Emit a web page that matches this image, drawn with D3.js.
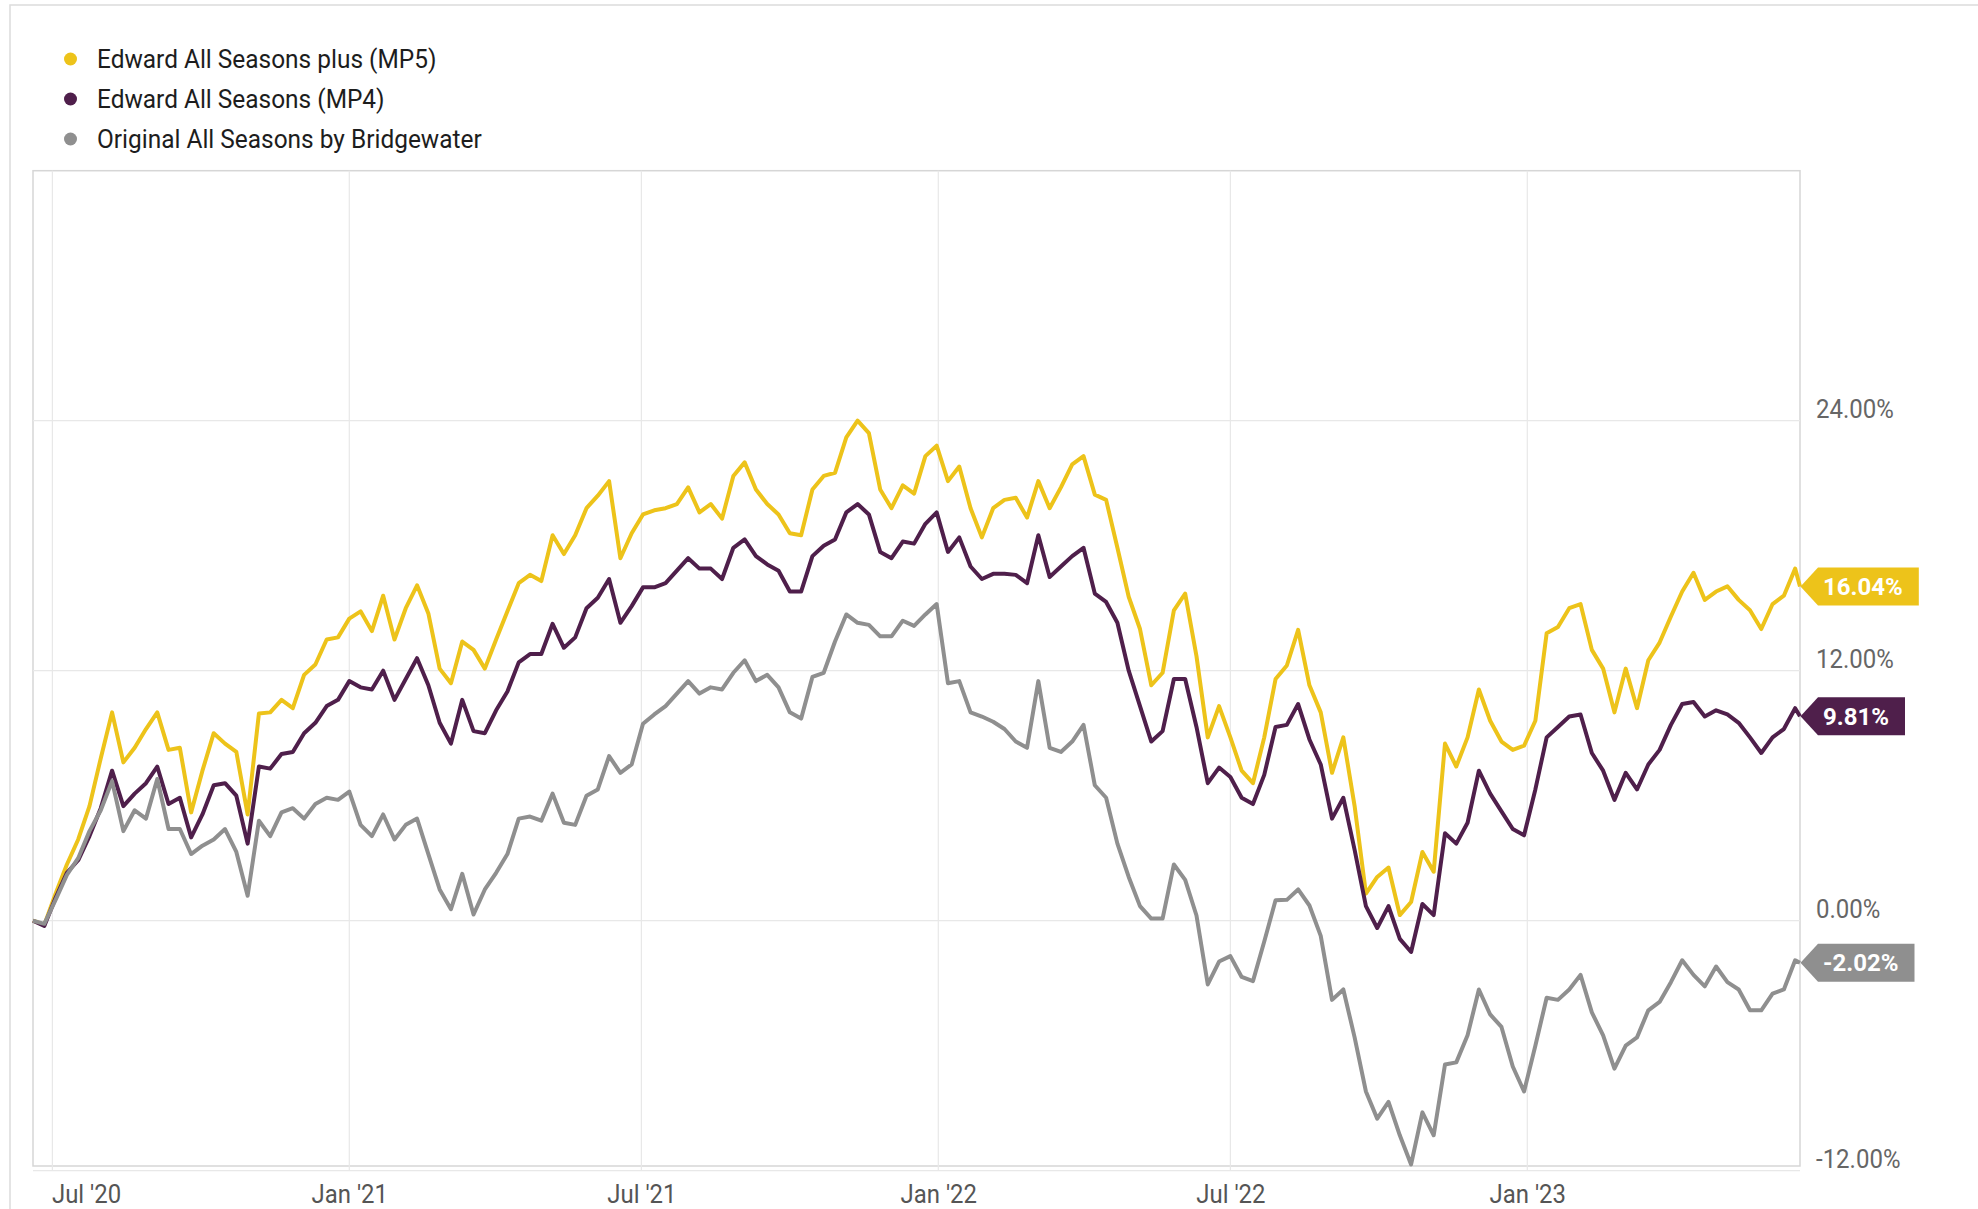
<!DOCTYPE html>
<html>
<head>
<meta charset="utf-8">
<script src="https://cdn.jsdelivr.net/npm/d3@7"></script>
<style>
  body { margin: 0; background: #fff; }
  svg { display: block; font-family: Roboto, "Noto Sans", sans-serif; }
</style>
</head>
<body>
<svg id="chart" width="1978" height="1209"></svg>
<script>
// series, in legend order
const seriesNames = ["Edward All Seasons plus (MP5)", "Edward All Seasons (MP4)", "Original All Seasons by Bridgewater"];
const seriesColors = ["#edc31a", "#4f1f4b", "#8f8f8f"];

// cumulative return in %, one reading per week from 19 Jun 2020, last one on 19 Jun 2023
const mp5 = [
  0, -0.2, 1.3, 2.7, 3.9, 5.5, 7.8, 10.0, 7.6, 8.3,
  9.2, 10.0, 8.2, 8.3, 5.2, 7.2, 9.0, 8.5, 8.1, 5.1,
  9.95, 10.0, 10.6, 10.2, 11.8, 12.3, 13.5, 13.6, 14.5, 14.85,
  13.9, 15.6, 13.5, 15.0, 16.1, 14.75, 12.1, 11.4, 13.4, 13.0,
  12.1, 13.5, 14.85, 16.2, 16.6, 16.3, 18.5, 17.6, 18.5, 19.8,
  20.4, 21.1, 17.4, 18.6, 19.5, 19.7, 19.8, 20.0, 20.8, 19.6,
  20.0, 19.3, 21.35, 22.0, 20.7, 20.0, 19.5, 18.6, 18.5, 20.7,
  21.35, 21.5, 23.2, 24.0, 23.4, 20.7, 19.8, 20.9, 20.5, 22.3,
  22.8, 21.1, 21.8, 19.8, 18.4, 19.8, 20.2, 20.3, 19.35, 21.1,
  19.8, 20.8, 21.9, 22.3, 20.45, 20.2, 17.9, 15.55, 14.0, 11.3,
  11.9, 14.9, 15.7, 12.7, 8.8, 10.3, 8.8, 7.2, 6.6, 8.8,
  11.6, 12.25, 13.96, 11.3, 10.0, 7.1, 8.8, 5.5, 1.3, 2.1,
  2.55, 0.27, 0.9, 3.3, 2.35, 8.5, 7.4, 8.8, 11.1, 9.6,
  8.6, 8.2, 8.4, 9.6, 13.8, 14.1, 15.0, 15.2, 13.0, 12.1,
  10.0, 12.1, 10.2, 12.5, 13.35, 14.6, 15.8, 16.7, 15.4, 15.8,
  16.05, 15.4, 14.9, 14.0, 15.2, 15.6, 16.9,
  16.04
];
const mp4 = [
  0, -0.25, 1.1, 2.3, 2.9, 4.06, 5.4, 7.2, 5.5, 6.1,
  6.6, 7.4, 5.6, 5.9, 4.0, 5.1, 6.5, 6.6, 6.0, 3.7,
  7.4, 7.3, 8.0, 8.1, 9.0, 9.5, 10.3, 10.6, 11.5, 11.2,
  11.1, 12.0, 10.6, 11.6, 12.6, 11.3, 9.5, 8.5, 10.6, 9.1,
  9.0, 10.1, 11.0, 12.4, 12.8, 12.8, 14.25, 13.1, 13.6, 15.0,
  15.5, 16.4, 14.3, 15.1, 16.0, 16.0, 16.2, 16.8, 17.4, 16.9,
  16.9, 16.4, 17.9, 18.3, 17.5, 17.1, 16.8, 15.8, 15.8, 17.5,
  18.0, 18.3, 19.6, 20.0, 19.5, 17.7, 17.4, 18.2, 18.1, 19.05,
  19.6, 17.7, 18.4, 17.0, 16.4, 16.65, 16.65, 16.6, 16.2, 18.5,
  16.5, 17.0, 17.5, 17.9, 15.7, 15.3, 14.3, 12.0, 10.3, 8.6,
  9.1, 11.6, 11.6, 9.3, 6.6, 7.35, 6.9, 5.9, 5.6, 7.0,
  9.3, 9.4, 10.4, 8.7, 7.5, 4.9, 5.9, 3.4, 0.7, -0.35,
  0.7, -0.87, -1.5, 0.8, 0.27, 4.2, 3.7, 4.7, 7.2, 6.1,
  5.25, 4.4, 4.1, 6.3, 8.8, 9.3, 9.8, 9.9, 8.05, 7.2,
  5.8, 7.1, 6.3, 7.5, 8.2, 9.4, 10.4, 10.5, 9.8, 10.1,
  9.9, 9.5, 8.8, 8.05, 8.8, 9.2, 10.2,
  9.81
];
const bridgewater = [
  0, -0.15, 1.0, 2.2, 3.0, 4.3, 5.3, 6.7, 4.3, 5.3,
  4.9, 6.8, 4.4, 4.4, 3.2, 3.6, 3.9, 4.4, 3.3, 1.2,
  4.8, 4.06, 5.2, 5.4, 4.9, 5.6, 5.9, 5.8, 6.2, 4.6,
  4.06, 5.1, 3.9, 4.6, 4.9, 3.2, 1.5, 0.55, 2.25, 0.3,
  1.5, 2.3, 3.2, 4.9, 5.0, 4.8, 6.1, 4.7, 4.6, 6.0,
  6.3, 7.9, 7.1, 7.5, 9.45, 9.9, 10.3, 10.9, 11.5, 10.9,
  11.2, 11.1, 11.9, 12.5, 11.5, 11.8, 11.2, 10.0, 9.7, 11.7,
  11.9, 13.4, 14.7, 14.3, 14.2, 13.65, 13.65, 14.4, 14.15, 14.7,
  15.2, 11.4, 11.5, 10.0, 9.8, 9.55, 9.2, 8.6, 8.3, 11.5,
  8.3, 8.1, 8.6, 9.4, 6.5, 5.9, 3.7, 2.1, 0.7, 0.1,
  0.1, 2.7, 1.96, 0.25, -3.06, -1.96, -1.7, -2.7, -2.9, -1.0,
  0.98, 1.0, 1.5, 0.73, -0.73, -3.8, -3.3, -5.6, -8.2, -9.5,
  -8.7, -10.3, -11.7, -9.2, -10.3, -6.9, -6.8, -5.5, -3.3, -4.5,
  -5.1, -7.0, -8.2, -6.0, -3.7, -3.8, -3.3, -2.6, -4.4, -5.5,
  -7.1, -6.0, -5.6, -4.3, -3.9, -2.95, -1.9, -2.6, -3.15, -2.2,
  -2.95, -3.3, -4.3, -4.3, -3.5, -3.3, -1.9,
  -2.02
];

const yTicks = [-12, 0, 12, 24];
const xTickDates = ["2020-07-01", "2021-01-01", "2021-07-01", "2022-01-01", "2022-07-01", "2023-01-01"];
const xTickLabels = ["Jul '20", "Jan '21", "Jul '21", "Jan '22", "Jul '22", "Jan '23"];

const parse = d3.timeParse("%Y-%m-%d");
const startDate = parse("2020-06-19");
const endDate = parse("2023-06-19");
const dates = mp5.map((_, i) => i === mp5.length - 1 ? endDate : d3.timeDay.offset(startDate, i * 7));
const allSeries = [mp5, mp4, bridgewater];

const plot = { left: 33, right: 1800, top: 170.7, bottom: 1166 };
const squeeze = 0.94; // the original font is a narrow one

const svg = d3.select("#chart");

const x = d3.scaleTime().domain([startDate, endDate]).range([plot.left, plot.right]);
const y = d3.scaleLinear().domain([-12, 36]).range([1170.7, 170.7]);

// card border
svg.append("path")
  .attr("d", "M10,1209 V5 H1978")
  .attr("fill", "none")
  .attr("stroke", "#dcdcdc")
  .attr("stroke-width", 1.5);

// legend
const legend = svg.append("g");
seriesNames.forEach((name, i) => {
  const cy = 59 + i * 40;
  legend.append("circle")
    .attr("cx", 70.5).attr("cy", cy).attr("r", 6.5)
    .attr("fill", seriesColors[i]);
  legend.append("text")
    .attr("transform", "translate(97," + cy + ") scale(" + squeeze + ",1)")
    .attr("dy", "0.36em")
    .attr("font-size", 26)
    .attr("fill", "#1d1d1d")
    .text(name);
});

// plot frame and grid
svg.append("rect")
  .attr("x", plot.left).attr("y", plot.top)
  .attr("width", plot.right - plot.left).attr("height", plot.bottom - plot.top)
  .attr("fill", "none").attr("stroke", "#d6d6d6").attr("stroke-width", 1.5);

const grid = svg.append("g").attr("stroke", "#e8e8e8").attr("stroke-width", 1.2);
grid.selectAll(".hg").data(yTicks).enter().append("line")
  .attr("x1", plot.left).attr("x2", plot.right)
  .attr("y1", d => y(d)).attr("y2", d => y(d));
grid.selectAll(".vg").data(xTickDates).enter().append("line")
  .attr("x1", d => x(parse(d))).attr("x2", d => x(parse(d)))
  .attr("y1", plot.top).attr("y2", y(-12));

// axes
const xAxis = svg.append("g")
  .attr("transform", "translate(0," + plot.bottom + ")")
  .call(d3.axisBottom(x)
    .tickValues(xTickDates.map(parse))
    .tickFormat((d, i) => xTickLabels[i])
    .tickSize(0));
xAxis.select(".domain").remove();
xAxis.selectAll("text")
  .attr("y", 37).attr("dy", 0)
  .attr("font-family", "Roboto, sans-serif")
  .attr("font-size", 26)
  .attr("fill", "#555")
  .attr("transform", "scale(0.92,1)");
xAxis.select(".tick text").attr("text-anchor", "start").attr("x", -1);

const yAxis = svg.append("g")
  .attr("transform", "translate(1816,0)")
  .call(d3.axisRight(y)
    .tickValues(yTicks)
    .tickFormat(d => d.toFixed(2) + "%")
    .tickSize(0));
yAxis.select(".domain").remove();
yAxis.selectAll("text")
  .attr("x", 0).attr("dy", -3)
  .attr("font-family", "Roboto, sans-serif")
  .attr("font-size", 25)
  .attr("fill", "#666")
  .attr("transform", "scale(0.96,1)");

// lines, grey drawn last so it sits on top
const line = d3.line()
  .x((d, i) => x(dates[i]))
  .y(d => y(d));

const order = [0, 1, 2];
svg.append("g").selectAll("path")
  .data(order)
  .enter().append("path")
  .attr("d", k => line(allSeries[k]))
  .attr("fill", "none")
  .attr("stroke", k => seriesColors[k])
  .attr("stroke-width", 4)
  .attr("stroke-linejoin", "round");

// end-value tags
const tags = svg.append("g");
allSeries.forEach((vals, k) => {
  const last = vals[vals.length - 1];
  const ty = y(last);
  const g = tags.append("g");
  const label = last.toFixed(2) + "%";
  const poly = g.append("path").attr("fill", seriesColors[k]);
  const t = g.append("text")
    .attr("x", plot.right + 23)
    .attr("y", ty)
    .attr("dy", "0.36em")
    .attr("font-size", 24)
    .attr("font-weight", "bold")
    .attr("fill", "#fff")
    .text(label);
  const w = t.node().getComputedTextLength();
  const tip = plot.right + 0.5, base = plot.right + 18, right = plot.right + 23 + w + 16, h = 19;
  poly.attr("d", "M" + tip + "," + ty + " L" + base + "," + (ty - h) + " H" + right +
    " V" + (ty + h) + " H" + base + " Z");
});
</script>
</body>
</html>
